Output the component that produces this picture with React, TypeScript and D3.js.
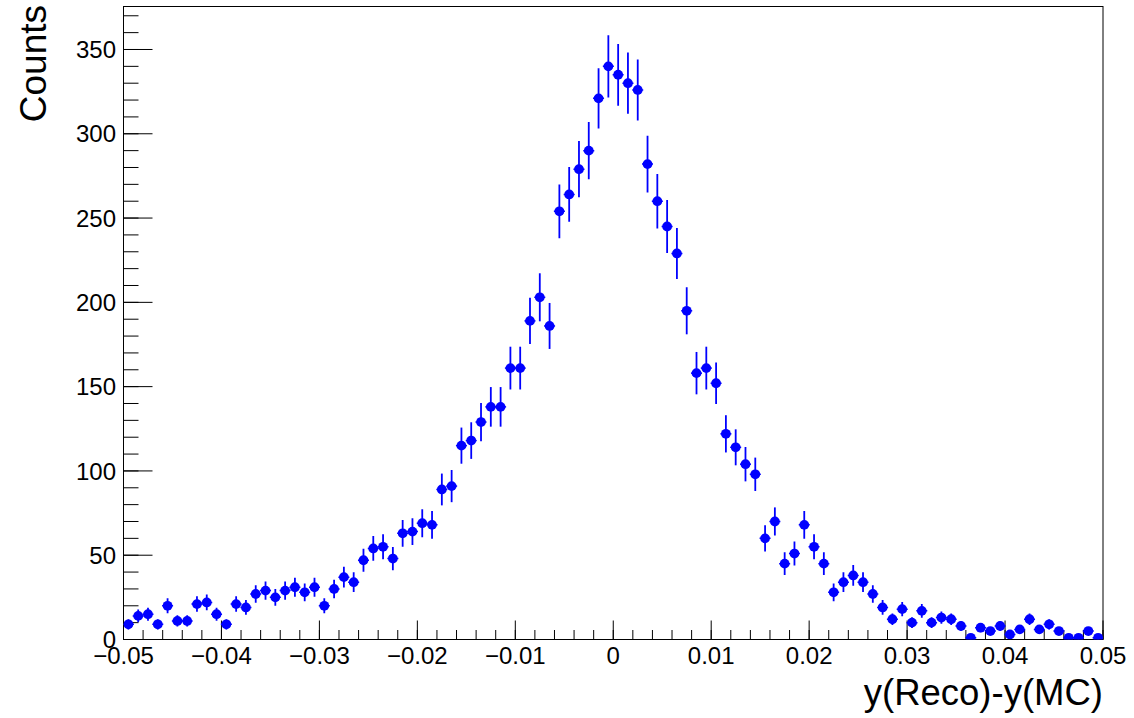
import React from "react";
import * as d3 from "d3";

const xDomain: [number, number] = [-0.05, 0.05];
const yDomain: [number, number] = [0, 375.5];
const binWidth = 0.001;

const counts: number[] = [
  9, 14, 15, 9, 20, 11, 11, 21, 22, 15,
  9, 21, 19, 27, 29, 25, 29, 31, 28, 31,
  20, 30, 37, 34, 47, 54, 55, 48, 63, 64,
  69, 68, 89, 91, 115, 118, 129, 138, 138, 161,
  161, 189, 203, 186, 254, 264, 279, 290, 321, 340,
  335, 330, 326, 282, 260, 245, 229, 195, 158, 161,
  152, 122, 114, 104, 98, 60, 70, 45, 51, 68,
  55, 45, 28, 34, 38, 34, 27, 19, 12, 18,
  10, 17, 10, 13, 12, 8, 1, 7, 5, 8,
  3, 6, 12, 6, 9, 5, 1, 1, 5, 1,
];

const xMajorTicks = [-0.05, -0.04, -0.03, -0.02, -0.01, 0, 0.01, 0.02, 0.03, 0.04, 0.05];
const xTickLabels = ["\u22120.05", "\u22120.04", "\u22120.03", "\u22120.02", "\u22120.01", "0", "0.01", "0.02", "0.03", "0.04", "0.05"];
const yMajorTicks = [0, 50, 100, 150, 200, 250, 300, 350];
const yTickLabels = ["0", "50", "100", "150", "200", "250", "300", "350"];

const xTitle = "y(Reco)-y(MC)";
const yTitle = "Counts";

export default function App() {
  const W = 1134, H = 718;
  const left = 123.5, right = 1103, top = 6.5, bottom = 639.5;
  const x = d3.scaleLinear().domain(xDomain).range([left, right]);
  const y = d3.scaleLinear().domain(yDomain).range([bottom, top]);

  const xMinor = d3.range(0, 51).map((i) => xDomain[0] + i * 0.002).filter((v) => v <= xDomain[1] + 1e-9);
  const yMinor = d3.range(0, yDomain[1], 10);
  const font = "'Liberation Sans', Arial, Helvetica, sans-serif";
  const blue = "#0000ff";

  return (
    <svg width={W} height={H} style={{ position: "absolute", left: 0, top: 0, background: "#fff" }} fontFamily={font}>
      <rect x={0} y={0} width={W} height={H} fill="#fff" />
      {xMinor.map((v, i) => (
        <line key={"xm" + i} x1={x(v)} x2={x(v)} y1={bottom} y2={bottom - 9.5} stroke="#000" strokeWidth={1} />
      ))}
      {xMajorTicks.map((v, i) => (
        <line key={"xM" + i} x1={x(v)} x2={x(v)} y1={bottom} y2={bottom - 19} stroke="#000" strokeWidth={1} />
      ))}
      {yMinor.map((v, i) => (
        <line key={"ym" + i} x1={left} x2={left + 15} y1={y(v)} y2={y(v)} stroke="#000" strokeWidth={1} />
      ))}
      {yMajorTicks.map((v, i) => (
        <line key={"yM" + i} x1={left} x2={left + 29} y1={y(v)} y2={y(v)} stroke="#000" strokeWidth={1} />
      ))}
      <rect x={left} y={top} width={right - left} height={bottom - top} fill="none" stroke="#000" strokeWidth={1} />

      <defs>
        <clipPath id="plotclip">
          <rect x={left} y={top} width={right - left} height={bottom - top} />
        </clipPath>
      </defs>
      <g clipPath="url(#plotclip)">
        {counts.map((c, i) => {
          const cx = x(xDomain[0] + (i + 0.5) * binWidth);
          const e = Math.sqrt(c);
          return (
            <g key={"p" + i}>
              <line x1={cx} x2={cx} y1={y(c - e)} y2={y(c + e)} stroke={blue} strokeWidth={1.8} />
              <line x1={cx - 5.5} x2={cx + 5.5} y1={y(c)} y2={y(c)} stroke={blue} strokeWidth={1.5} />
              <circle cx={cx} cy={y(c)} r={4.9} fill={blue} />
            </g>
          );
        })}
      </g>

      {yMajorTicks.map((v, i) => (
        <text key={"yl" + i} x={116} y={y(v)} dy="0.36em" textAnchor="end" fontSize={24} fill="#000">
          {yTickLabels[i]}
        </text>
      ))}
      {xMajorTicks.map((v, i) => (
        <text key={"xl" + i} x={x(v)} y={664} textAnchor="middle" fontSize={24} fill="#000">
          {xTickLabels[i]}
        </text>
      ))}

      <text x={right} y={705} textAnchor="end" fontSize={36.5} fill="#000">{xTitle}</text>
      <text transform={`translate(46,5) rotate(-90)`} textAnchor="end" fontSize={37} fill="#000">{yTitle}</text>
    </svg>
  );
}
